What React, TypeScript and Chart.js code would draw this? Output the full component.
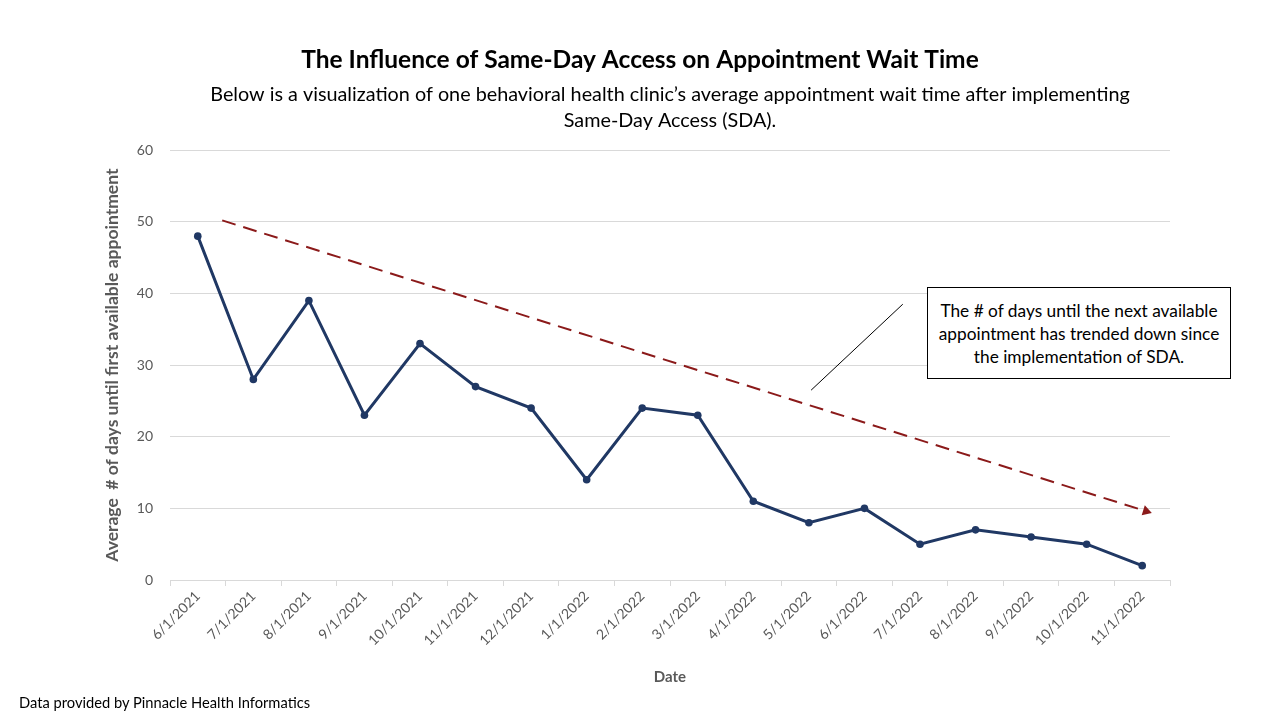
import React, { useEffect, useRef } from "react";
import Chart from "chart.js/auto";

const categories = [
  "6/1/2021", "7/1/2021", "8/1/2021", "9/1/2021", "10/1/2021", "11/1/2021",
  "12/1/2021", "1/1/2022", "2/1/2022", "3/1/2022", "4/1/2022", "5/1/2022",
  "6/1/2022", "7/1/2022", "8/1/2022", "9/1/2022", "10/1/2022", "11/1/2022",
];
const waitDays = [48, 28, 39, 23, 33, 27, 24, 14, 24, 23, 11, 8, 10, 5, 7, 6, 5, 2];

// Trend arrow (category-index units on a hidden linear axis)
const trendX = [0.44, 17.07];
const trendY = [50.2, 9.6];
// Callout pointer line
const pointerX = [12.69, 11.04];
const pointerY = [38.5, 26.5];

const yMin = 0;
const yMax = 60;
const yStep = 10;

const titleText = "The Influence of Same-Day Access on Appointment Wait Time";
const subtitleLines = [
  "Below is a visualization of one behavioral health clinic\u2019s average appointment wait time after implementing",
  "Same-Day Access (SDA).",
];
const yAxisTitle = "Average  # of days until first available appointment";
const xAxisTitle = "Date";
const annotationLines = [
  "The # of days until the next available",
  "appointment has trended down since",
  "the implementation of SDA.",
];
const footerText = "Data provided by Pinnacle Health Informatics";

const FONT = "Lato, 'Open Sans', sans-serif";
const GRAY = "#595959";
const GRID = "#d9d9d9";
const NAVY = "#203864";
const DARKRED = "#8b1a1a";

export default function App() {
  const canvasRef = useRef<HTMLCanvasElement | null>(null);

  useEffect(() => {
    if (!canvasRef.current) return;
    const chart = new Chart(canvasRef.current, {
      type: "line",
      data: {
        labels: categories,
        datasets: [
          {
            label: "Average wait (days)",
            data: waitDays,
            borderColor: NAVY,
            backgroundColor: NAVY,
            borderWidth: 3,
            pointRadius: 3.8,
            pointHoverRadius: 3.8,
            pointBorderWidth: 0,
            tension: 0,
            xAxisID: "x",
            yAxisID: "y",
          },
          {
            label: "Trend",
            data: trendX.map((x, i) => ({ x, y: trendY[i] })),
            xAxisID: "x2",
            yAxisID: "y",
            borderColor: DARKRED,
            backgroundColor: DARKRED,
            borderWidth: 2,
            borderDash: [14, 8],
            pointStyle: "triangle",
            pointRadius: [0, 6],
            pointRotation: [0, 107.5],
            pointBorderWidth: 0,
            tension: 0,
          } as any,
          {
            label: "Pointer",
            data: pointerX.map((x, i) => ({ x, y: pointerY[i] })),
            xAxisID: "x2",
            yAxisID: "y",
            borderColor: "#000000",
            borderWidth: 1,
            pointRadius: 0,
            tension: 0,
          } as any,
        ],
      },
      options: {
        animation: false,
        responsive: false,
        maintainAspectRatio: false,
        layout: { padding: { left: 0, right: 0, top: 0, bottom: 0 } },
        plugins: {
          legend: { display: false },
          tooltip: { enabled: false },
          title: {
            display: true,
            text: titleText,
            color: "#000000",
            font: { family: FONT, size: 24.5, weight: "bold", lineHeight: 1.2 },
            padding: { top: 45, bottom: 5 },
          },
          subtitle: {
            display: true,
            fullSize: false,
            text: subtitleLines,
            color: "#000000",
            font: { family: FONT, size: 19.8, lineHeight: 1.27 },
            padding: { top: 3, bottom: 17.5 },
          },
        },
        scales: {
          x: {
            type: "category",
            offset: true,
            grid: {
              offset: true,
              drawOnChartArea: false,
              drawTicks: true,
              tickLength: 6,
              color: GRID,
            },
            border: { color: GRID, width: 1 },
            ticks: {
              minRotation: 45,
              maxRotation: 45,
              autoSkip: false,
              padding: 2,
              color: GRAY,
              font: { family: FONT, size: 14 },
            },
            title: {
              display: true,
              text: xAxisTitle,
              color: GRAY,
              font: { family: FONT, size: 15, weight: "bold", lineHeight: 1.2 },
              padding: { top: 0, bottom: 34 },
            },
            afterFit: (s: any) => {
              s.height = 140;
            },
          },
          x2: {
            type: "linear",
            display: false,
            min: -0.5,
            max: categories.length - 0.5,
          },
          y: {
            min: yMin,
            max: yMax,
            ticks: {
              stepSize: yStep,
              padding: 17,
              color: GRAY,
              font: { family: FONT, size: 14 },
            },
            grid: { color: GRID, drawTicks: false },
            border: { display: false },
            title: {
              display: true,
              text: yAxisTitle,
              color: GRAY,
              font: { family: FONT, size: 17.5, weight: "bold", lineHeight: 1.2 },
              padding: { top: 101.5, bottom: 0 },
            },
            afterFit: (s: any) => {
              s.width = 170;
            },
          },
          yRightSpace: {
            type: "linear",
            position: "right",
            display: true,
            ticks: { display: false },
            grid: { display: false, drawTicks: false },
            border: { display: false },
            afterFit: (s: any) => {
              s.width = 110;
            },
          },
        },
      } as any,
    });
    return () => chart.destroy();
  }, []);

  return (
    <div style={{ position: "absolute", left: 0, top: 0, width: 1280, height: 720, background: "#ffffff" }}>
      <canvas ref={canvasRef} width={1280} height={720} style={{ display: "block" }} />
      <div
        style={{
          position: "absolute",
          left: 927,
          top: 287,
          width: 304,
          height: 92,
          boxSizing: "border-box",
          border: "1px solid #000",
          background: "#fff",
          fontFamily: FONT,
          fontSize: 17.3,
          lineHeight: "23px",
          color: "#000",
          textAlign: "center",
          display: "flex",
          flexDirection: "column",
          justifyContent: "center",
          alignItems: "center",
          whiteSpace: "nowrap",
        }}
      >
        {annotationLines.map((l, i) => (
          <div key={i}>{l}</div>
        ))}
      </div>
      <div
        style={{
          position: "absolute",
          left: 19,
          top: 693,
          fontFamily: FONT,
          fontSize: 14.7,
          lineHeight: "18px",
          color: "#000",
          whiteSpace: "nowrap",
        }}
      >
        {footerText}
      </div>
    </div>
  );
}
